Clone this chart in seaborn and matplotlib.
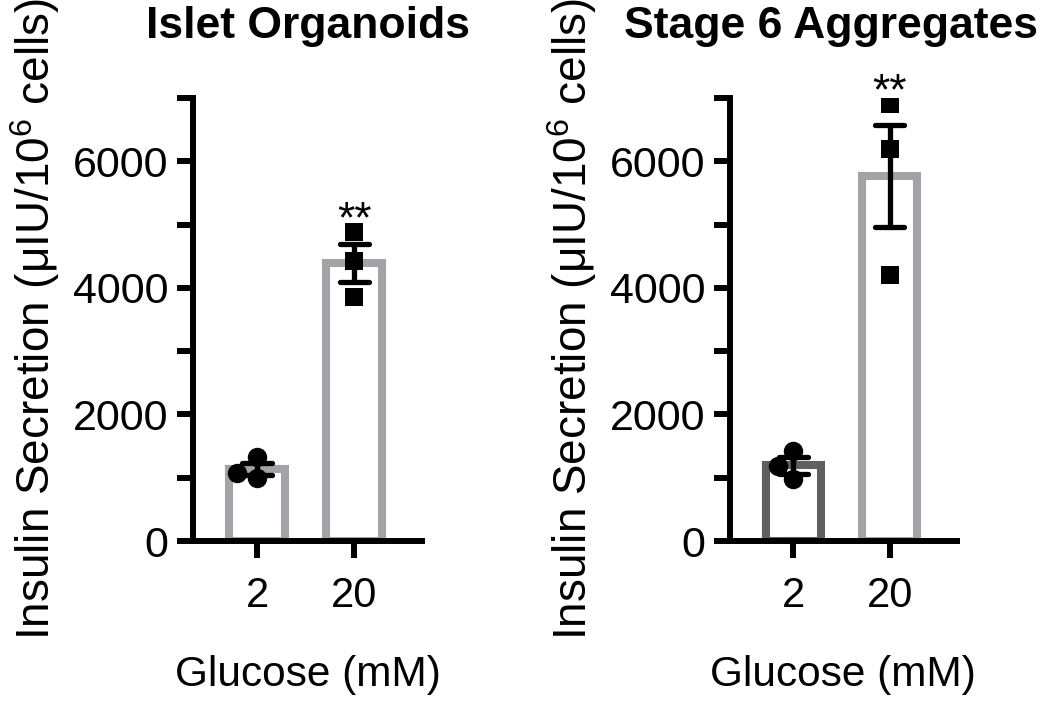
import matplotlib
matplotlib.use("Agg")
import matplotlib.pyplot as plt
import pandas as pd
import numpy as np
import seaborn as sns

# values (uIU / 10^6 cells)
glucose = ["2", "20"]
organoid_2mM = [1320, 1000, 1080]
organoid_20mM = [4890, 4430, 3850]
aggregate_2mM = [1430, 1180, 980]
aggregate_20mM = [6910, 6190, 4210]
titles = ["Islet Organoids", "Stage 6 Aggregates"]
title_x = [0.5, 0.445]
bar_colors = [["#a2a2a7", "#a2a2a7"], ["#5f5f60", "#a2a2a7"]]
stars = ["**", "**"]

sns.set_style("ticks")
plt.rcParams["font.family"] = ["Liberation Sans", "DejaVu Sans"]
plt.rcParams["mathtext.fontset"] = "custom"
plt.rcParams["mathtext.rm"] = "Liberation Sans"
plt.rcParams["mathtext.it"] = "Liberation Sans:italic"
for key in ["text.color", "axes.labelcolor", "xtick.color", "ytick.color", "axes.edgecolor"]:
    plt.rcParams[key] = "black"


def make_df(low, high):
    return pd.DataFrame({
        "glucose": ["2"] * len(low) + ["20"] * len(high),
        "insulin": low + high,
    })


def draw_panel(ax, df, colors, title, tx, star):
    sns.barplot(data=df, x="glucose", y="insulin", hue="glucose", order=glucose,
                hue_order=glucose, palette=colors, fill=False, width=0.58,
                linewidth=5.8, errorbar="se", capsize=0.3,
                err_kws={"color": "black", "linewidth": 3.8}, legend=False, ax=ax)
    sns.swarmplot(data=df[df.glucose == "2"], x="glucose", y="insulin", order=glucose,
                  color="black", marker="o", size=14, ax=ax, zorder=3)
    sns.swarmplot(data=df[df.glucose == "20"], x="glucose", y="insulin", order=glucose,
                  color="black", marker="s", size=13.5, ax=ax, zorder=3)
    top = df[df.glucose == "20"].insulin.max()
    ax.text(1, top - 160, star, ha="center", va="bottom", fontsize=32, clip_on=False)

    ax.set_xlim(-0.66, 1.70)
    ax.set_ylim(0, 7000)
    ax.set_yticks([0, 2000, 4000, 6000])
    ax.set_yticks([1000, 3000, 5000, 7000], minor=True)
    ax.tick_params(axis="y", which="both", length=11.5, width=4.3, labelsize=31, pad=6)
    ax.tick_params(axis="x", length=12, width=4.3, labelsize=30, pad=13)
    for s in ["left", "bottom"]:
        ax.spines[s].set_linewidth(4.3)
    sns.despine(ax=ax)
    ax.set_xlabel("Glucose (mM)", fontsize=30.5, labelpad=28)
    ax.set_ylabel("Insulin Secretion (\u03bcIU/10$^6$ cells)", fontsize=33, labelpad=8)
    ax.set_title(title, fontsize=32, fontweight="bold", pad=43, x=tx)


fig = plt.figure(figsize=(10.41, 7.01), dpi=100)
ax1 = fig.add_axes([0.1854, 0.2282, 0.220, 0.632])
ax2 = fig.add_axes([0.7012, 0.2282, 0.218, 0.632])

draw_panel(ax1, make_df(organoid_2mM, organoid_20mM), bar_colors[0], titles[0], title_x[0], stars[0])
draw_panel(ax2, make_df(aggregate_2mM, aggregate_20mM), bar_colors[1], titles[1], title_x[1], stars[1])

fig.savefig("out.png", dpi=100)
